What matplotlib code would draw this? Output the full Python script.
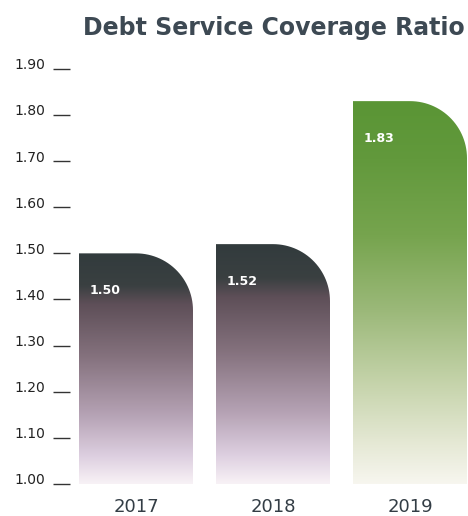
import numpy as np
import matplotlib
matplotlib.use("Agg")
import matplotlib.pyplot as plt
import matplotlib.transforms as mtransforms
from matplotlib.path import Path
from matplotlib.patches import PathPatch
from matplotlib.colors import LinearSegmentedColormap

# data
years = ["2017", "2018", "2019"]
ratios = [1.50, 1.52, 1.83]
yticks = [1.00, 1.10, 1.20, 1.30, 1.40, 1.50, 1.60, 1.70, 1.80, 1.90]

# gradients, 0 = bottom of bar, 1 = top
dark_cmap = LinearSegmentedColormap.from_list("dark", [
    (0.00, "#f8f2f6"), (0.12, "#ddcfe0"), (0.30, "#b5a2b4"),
    (0.55, "#85727e"), (0.78, "#5e4f58"), (0.86, "#3a4041"), (1.00, "#323b3d")])
green_cmap = LinearSegmentedColormap.from_list("green", [
    (0.00, "#f7f6ef"), (0.10, "#e6e9d6"), (0.25, "#c8d5ae"),
    (0.45, "#9cb97a"), (0.65, "#76a44e"), (0.85, "#62993c"), (1.00, "#5a9535")])
cmaps = [dark_cmap, dark_cmap, green_cmap]

W, H = 468, 516
fig = plt.figure(figsize=(W / 100, H / 100), dpi=100)
ax_left, ax_right = 70, 468
ax_bottom, ax_top = 484, 55
ax = fig.add_axes([ax_left / W, 1 - ax_bottom / H,
                   (ax_right - ax_left) / W, (ax_bottom - ax_top) / H])

ymin, ymax = 1.0, 1.93
px_per_x = 137.0
x0 = -66 / px_per_x
px_per_y = (ax_bottom - ax_top) / (ymax - ymin)

bar_w = 114 / px_per_x
r_px = 57
rx = r_px / px_per_x
ry = r_px / px_per_y

grad = np.linspace(0, 1, 256).reshape(-1, 1)
for i, (val, cmap) in enumerate(zip(ratios, cmaps)):
    left, right = i - bar_w / 2, i + bar_w / 2
    t = np.linspace(0, np.pi / 2, 30)
    arc_x = right - rx + rx * np.cos(t)
    arc_y = val - ry + ry * np.sin(t)
    verts = [(left, ymin), (right, ymin)] + list(zip(arc_x, arc_y)) + [(left, val), (left, ymin)]
    patch = PathPatch(Path(verts), facecolor="none", edgecolor="none")
    ax.add_patch(patch)
    im = ax.imshow(grad, cmap=cmap, origin="lower", aspect="auto",
                   extent=(left, right, ymin, val), interpolation="bilinear")
    im.set_clip_path(patch)
    ax.text(left + 11 / px_per_x, val - 37 / px_per_y, f"{val:.2f}",
            color="white", fontsize=9, fontweight="bold", ha="left", va="center",
            family="DejaVu Sans")

ax.set_xlim(x0, x0 + (ax_right - ax_left) / px_per_x)
ax.set_ylim(ymin, ymax)

for s in ax.spines.values():
    s.set_visible(False)
ax.set_yticks(yticks)
ax.set_yticklabels([f"{v:.2f}" for v in yticks], fontsize=10, color="#222222",
                   family="DejaVu Sans")
ax.tick_params(axis="y", length=12, width=1, color="#333333", pad=6, direction="out")
# labels sit a little above their dash
shift = mtransforms.ScaledTranslation(0, 5 / 100, fig.dpi_scale_trans)
for lab in ax.get_yticklabels():
    lab.set_transform(lab.get_transform() + shift)
ax.set_xticks(range(len(years)))
ax.set_xticklabels(years, fontsize=13, color="#333d45", family="DejaVu Sans")
ax.tick_params(axis="x", length=0, pad=10)

fig.text(465 / W, 1 - 28 / H, "Debt Service Coverage Ratio", ha="right", va="center",
         fontsize=17, fontweight="bold", color="#3d4953", family="DejaVu Sans")

fig.savefig("out.png", dpi=100)
